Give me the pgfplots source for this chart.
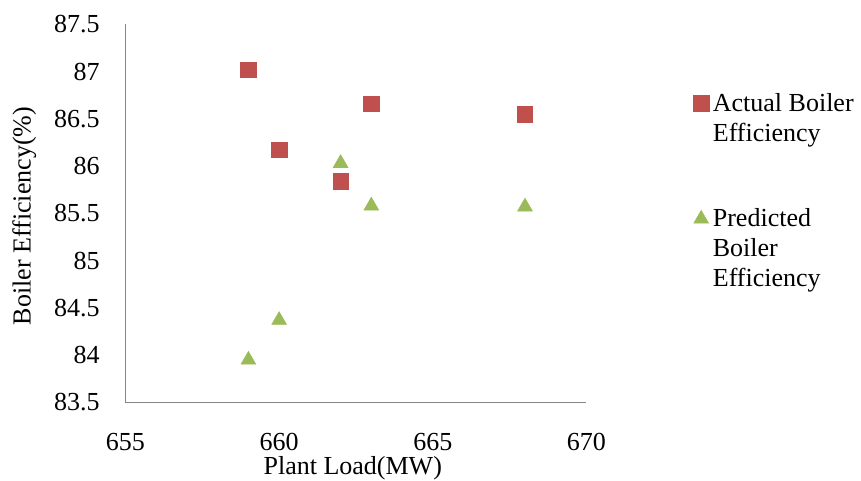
\documentclass[border=0pt]{standalone}
\usepackage{fontspec}
\setmainfont{Liberation Serif}
\usepackage{pgfplots}
\pgfplotsset{compat=1.18}

\definecolor{actualred}{HTML}{C0504D}
\definecolor{predgreen}{HTML}{9BBB59}
\definecolor{axisgray}{HTML}{868686}

\newcommand{\chartfont}{\fontsize{19.5}{22.5}\selectfont}

\begin{document}
\begin{tikzpicture}
\useasboundingbox (0,0) rectangle (645.75pt,360.75pt);
\begin{axis}[
  at={(94.1pt,58.9pt)}, anchor=south west,
  scale only axis,
  width=345.75pt, height=283.65pt,
  xmin=655, xmax=670, ymin=83.5, ymax=87.5,
  xtick={655,660,665,670},
  ytick={83.5,84,84.5,85,85.5,86,86.5,87,87.5},
  axis lines*=left,
  axis line style={draw=axisgray, line width=1pt, -},
  major tick length=0pt,
  /pgf/number format/assume math mode=true,
  /pgf/number format/1000 sep={},
  tick label style={font=\chartfont, text=black},
  yticklabel style={anchor=east, inner sep=0pt, xshift=-19.1pt},
  xticklabel style={anchor=north, inner sep=0pt, yshift=-23pt},
  xlabel={Plant Load(MW)},
  ylabel={Boiler Efficiency(\%)},
  xlabel style={font=\chartfont, inner sep=0pt, anchor=base,
    at={([xshift=-2.4pt,yshift=-54.3pt]axis description cs:0.5,0)}},
  ylabel style={font=\chartfont, inner sep=0pt, anchor=base,
    at={([xshift=-71.2pt,yshift=-1.9pt]axis description cs:0,0.5)}},
  legend style={
    at={(axis description cs:1.2321,0.817)}, anchor=north west,
    draw=none, fill=none, inner sep=0pt, outer sep=0pt,
    row sep=71.5pt, column sep=2.95pt,
    nodes={inner sep=0pt, font=\chartfont},
  },
  legend cell align=left,
]
\addplot[only marks, mark=square*, mark size=5.8pt,
  mark options={fill=actualred, draw=actualred}]
  coordinates {(659,87.02) (660,86.17) (662,85.84) (663,86.66) (668,86.55)};
\addlegendentry{\parbox[t]{112pt}{\raggedright\chartfont Actual Boiler Efficiency}}
\addplot[only marks, mark=triangle*, mark size=6.4pt,
  mark options={fill=predgreen, draw=predgreen}]
  coordinates {(659,83.95) (660,84.37) (662,86.03) (663,85.58) (668,85.57)};
\addlegendentry{\parbox[t]{112pt}{\raggedright\chartfont Predicted Boiler Efficiency}}
\end{axis}
\end{tikzpicture}
\end{document}
